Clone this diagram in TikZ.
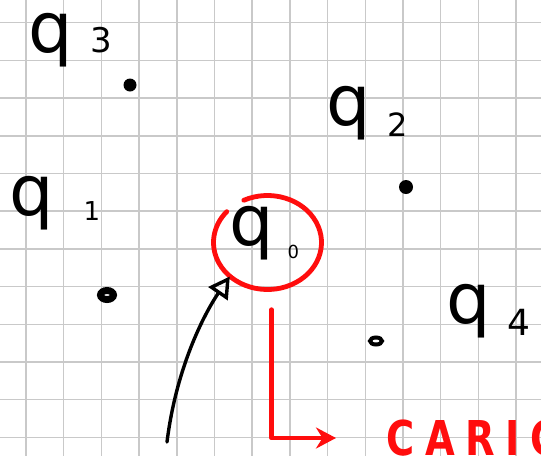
\documentclass[tikz,border=0pt]{standalone}
\usepackage{fontspec}
\setmainfont{DejaVu Sans}
\usepackage{tikz}
\usetikzlibrary{arrows.meta,calc,shapes.geometric}
\definecolor{penRed}{HTML}{FF0D0D}
\definecolor{gridGray}{HTML}{C9C9C9}
\newcommand{\qsize}{\fontsize{70}{70}\selectfont}
\newcommand{\qidx}[3]{\raisebox{#2}{\fontsize{#1}{#1}\selectfont #3}}

\begin{document}
\begin{tikzpicture}[x=1pt,y=-1pt,
  qlabel/.style={anchor=base west,inner sep=0pt,font=\qsize},
  dotpt/.style={circle,fill=black,inner sep=0pt,minimum size=#1},
  ringpt/.style={ellipse,draw=black,inner sep=0pt},
  pen/.style={line width=3.4pt,line cap=round,line join=round},
  redpen/.style={pen,draw=penRed,line width=4.8pt}]
\useasboundingbox (0,0) rectangle (541,456);
\fill[white] (0,0) rectangle (541,456);
\clip (0,0) rectangle (541,456);
% squared paper
\foreach \gx in {0,...,13}
  \draw[gridGray,line width=1.5pt] (26+37.7*\gx,0) -- ++(0,456);
\foreach \gy in {0,...,11}
  \draw[gridGray,line width=1.5pt] (0,22.7+37.7*\gy) -- ++(541,0);

% states
\node[qlabel] (q3) at (28,52) {q\hspace{18pt}\qidx{34}{0pt}{3}};
\node[qlabel] (q2) at (326,125) {q\hspace{17pt}\qidx{32}{-11pt}{2}};
\node[qlabel] (q1) at (9,215) {q\hspace{30pt}\qidx{26}{-5pt}{1}};
\node[qlabel] (q0) at (229,245) {q\hspace{14pt}\qidx{18}{-13pt}{0}};
\node[qlabel] (q4) at (446,323) {q\hspace{17pt}\qidx{36}{-12pt}{4}};

\node[dotpt=13pt] (p3) at (130,85) {};
\node[dotpt=14pt] (p2) at (406,187) {};
\node[ringpt,line width=7pt,minimum width=13pt,minimum height=9pt] (p1) at (107,295) {};
\node[ringpt,line width=4pt,minimum width=12pt,minimum height=7pt] (p4) at (376,341) {};

% initial state ring and arrow
\node[ellipse,minimum width=108pt,minimum height=94pt,inner sep=0pt] (ring) at (267.5,242.5) {};
\draw[redpen] ($(ring.center)+(244:54 and 47)$)
  arc[start angle=244,end angle=581,x radius=54,y radius=47];
\coordinate (tail) at (167,442);
\draw[pen,-{Triangle[open,length=21pt,width=23pt]}] (tail)
  .. controls +(10,-80) and +(-22,32) .. (ring.222);

% red note
\node[anchor=west,inner sep=0pt,text=penRed,font=\bfseries\fontsize{48}{48}\selectfont]
  (caric) at (386,438) {\scalebox{0.8}[1]{\addfontfeature{LetterSpace=28}CARIC}};
\coordinate (redtop) at ($(ring.south)+(4,20)$);
\draw[redpen,-{Stealth[length=20pt,width=21pt]},shorten >=50pt] (redtop) |- (caric.west);
\end{tikzpicture}
\end{document}
